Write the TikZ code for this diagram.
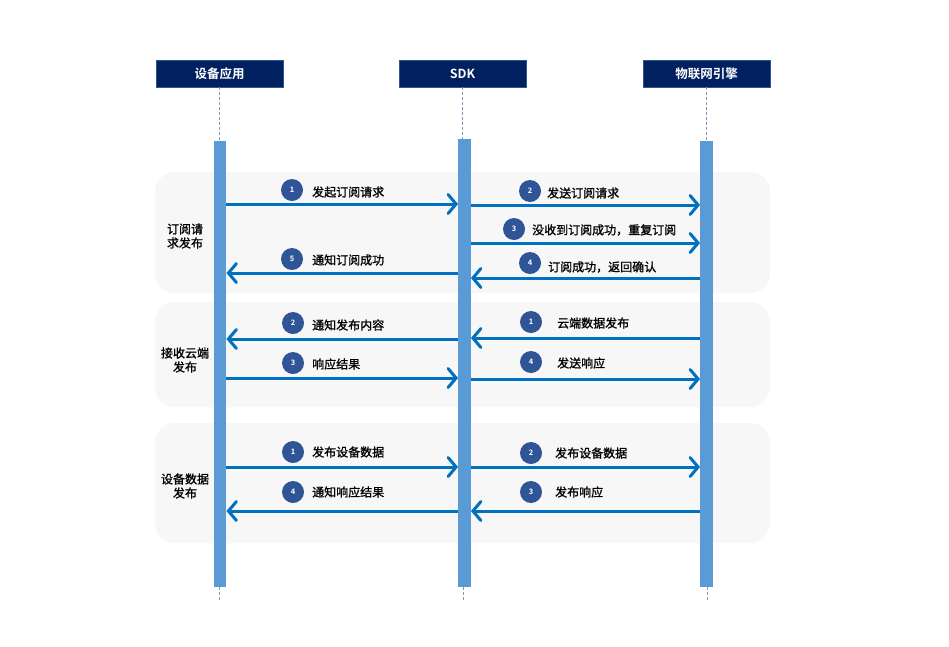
\documentclass[tikz,border=0pt]{standalone}
\usepackage{fontspec}
\setmainfont{Noto Sans CJK SC}[BoldFont={Noto Sans CJK SC Bold}]
\newfontfamily\lblfont{Noto Sans CJK SC}[FakeBold=1.2]
\usetikzlibrary{arrows.meta,calc}
\definecolor{navy}{HTML}{002060}
\definecolor{navyedge}{HTML}{2F5597}
\definecolor{barblue}{HTML}{5B9BD5}
\definecolor{msgblue}{HTML}{0070C0}
\definecolor{circblue}{HTML}{2F5597}
\definecolor{grp}{HTML}{F7F7F7}
\definecolor{lifeline}{HTML}{8096B8}
\tikzset{
  header/.style={draw=navyedge,fill=navy,text=white,minimum width=127pt,minimum height=27pt,inner sep=0pt,font=\fontsize{12.5}{14}\selectfont\bfseries},
  actbar/.style={fill=barblue,draw=none,minimum width=12.5pt,inner sep=0pt},
  life/.style={lifeline,dashed,line width=0.6pt,dash pattern=on 3pt off 2pt},
  grpbox/.style={fill=grp,draw=none,rounded corners=20pt},
  grplabel/.style={align=center,font=\fontsize{12}{14}\lblfont,inner sep=0pt},
  msg/.style={msgblue,line width=3pt,-{Straight Barb[length=8pt,width=19pt,line cap=round,line width=3pt]}},
  num/.style={circle,fill=circblue,minimum size=22pt,inner sep=0pt,text=white,font=\fontsize{7.5}{8}\selectfont\bfseries},
  msglabel/.style={anchor=west,inner sep=0pt,font=\fontsize{12}{14}\lblfont},
}
\begin{document}
\begin{tikzpicture}[x=1pt,y=-1pt]
\useasboundingbox[fill=white] (0,0) rectangle (949,646);
% group backgrounds
\fill[grpbox] (155,172) rectangle (770,293);
\fill[grpbox] (155,302) rectangle (770,407);
\fill[grpbox] (155,423) rectangle (770,543);
% headers
\node[header] (hA) at (219.5,73.5) {设备应用};
\node[header] (hB) at (462.5,73.5) {SDK};
\node[header] (hC) at (706.5,73.5) {物联网引擎};
% activation bars
\node[actbar,minimum height=446pt] (bA) at (220,364) {};
\node[actbar,minimum height=448pt] (bB) at (464.5,363) {};
\node[actbar,minimum height=446pt] (bC) at (706.5,364) {};
% lifelines
\coordinate (eA) at (219,600);
\coordinate (eB) at (463,600);
\coordinate (eC) at (707,600);
\draw[life] (hA.south) -- (hA.south |- bA.north);
\draw[life] (hB.south) -- (hB.south |- bB.north);
\draw[life] (hC.south) -- (hC.south |- bC.north);
\draw[life] (eA |- bA.south) -- (eA);
\draw[life] (eB |- bB.south) -- (eB);
\draw[life] (eC |- bC.south) -- (eC);
% group labels
\node[grplabel] (g1) at (185,236) {订阅请\\求发布};
\node[grplabel] (g2) at (185,360) {接收云端\\发布};
\node[grplabel] (g3) at (185,486) {设备数据\\发布};
% ---- group 1
\coordinate (y11) at (0,204);
\coordinate (y12) at (0,205);
\coordinate (y13) at (0,243);
\coordinate (y15) at (0,273);
\coordinate (y14) at (0,278);
\draw[msg] (bA.east |- y11) -- (bB.west |- y11);
\draw[msg] (bB.east |- y12) -- (bC.west |- y12);
\draw[msg] (bB.east |- y13) -- (bC.west |- y13);
\draw[msg] (bB.west |- y15) -- (bA.east |- y15);
\draw[msg] (bC.west |- y14) -- (bB.east |- y14);
\node[num] (n11) at (292,190) {1};
\node[msglabel] (t11) at (312,192) {发起订阅请求};
\node[num] (n12) at (530,191) {2};
\node[msglabel] (t12) at (547,193) {发送订阅请求};
\node[num] (n13) at (514,229) {3};
\node[msglabel] (t13) at (532,230) {没收到订阅成功，重复订阅};
\node[num] (n15) at (292,259) {5};
\node[msglabel] (t15) at (312,260) {通知订阅成功};
\node[num] (n14) at (530,263) {4};
\node[msglabel] (t14) at (548,267) {订阅成功，返回确认};
% ---- group 2
\coordinate (y22) at (0,339);
\coordinate (y21) at (0,338);
\coordinate (y23) at (0,378);
\coordinate (y24) at (0,379);
\draw[msg] (bB.west |- y22) -- (bA.east |- y22);
\draw[msg] (bC.west |- y21) -- (bB.east |- y21);
\draw[msg] (bA.east |- y23) -- (bB.west |- y23);
\draw[msg] (bB.east |- y24) -- (bC.west |- y24);
\node[num] (n22) at (293,323) {2};
\node[msglabel] (t22) at (312,325) {通知发布内容};
\node[num] (n21) at (531,322) {1};
\node[msglabel] (t21) at (557,323) {云端数据发布};
\node[num] (n23) at (293,363) {3};
\node[msglabel] (t23) at (312,364) {响应结果};
\node[num] (n24) at (531,362) {4};
\node[msglabel] (t24) at (557,363) {发送响应};
% ---- group 3
\coordinate (y31) at (0,467);
\coordinate (y34) at (0,511);
\draw[msg] (bA.east |- y31) -- (bB.west |- y31);
\draw[msg] (bB.east |- y31) -- (bC.west |- y31);
\draw[msg] (bB.west |- y34) -- (bA.east |- y34);
\draw[msg] (bC.west |- y34) -- (bB.east |- y34);
\node[num] (n31) at (293,452) {1};
\node[msglabel] (t31) at (312,452) {发布设备数据};
\node[num] (n32) at (531,453) {2};
\node[msglabel] (t32) at (555,453) {发布设备数据};
\node[num] (n34) at (293,492) {4};
\node[msglabel] (t34) at (312,492) {通知响应结果};
\node[num] (n33) at (531,492) {3};
\node[msglabel] (t33) at (555,492) {发布响应};
\end{tikzpicture}
\end{document}
